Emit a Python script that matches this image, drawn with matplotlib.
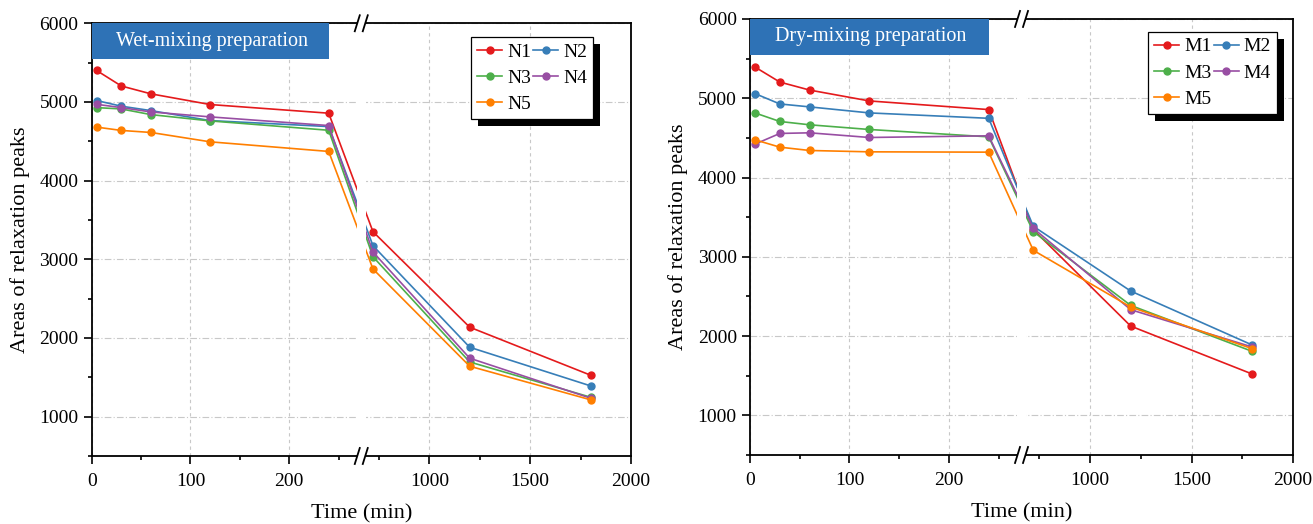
import numpy as np
import matplotlib
matplotlib.use("Agg")
import matplotlib.pyplot as plt
import matplotlib.transforms as mtransforms
from matplotlib.patches import Rectangle
from matplotlib.ticker import FixedLocator, MultipleLocator

plt.rcParams["font.family"] = ["Liberation Serif", "DejaVu Serif"]
plt.rcParams["mathtext.default"] = "regular"

# sampling times (min)
time = [5, 30, 60, 120, 240, 720, 1200, 1800]

# wet-mixing preparation
wet_labels = ["N1", "N2", "N3", "N4", "N5"]
n1 = [5400, 5203, 5103, 4967, 4857, 3351, 2137, 1527]
n2 = [5018, 4946, 4890, 4763, 4687, 3173, 1882, 1391]
n3 = [4928, 4911, 4839, 4759, 4640, 3033, 1695, 1247]
n4 = [4970, 4928, 4873, 4810, 4700, 3093, 1743, 1235]
n5 = [4680, 4638, 4612, 4493, 4371, 2877, 1641, 1214]

# dry-mixing preparation
dry_labels = ["M1", "M2", "M3", "M4", "M5"]
m1 = [5394, 5204, 5103, 4966, 4857, 3343, 2126, 1520]
m2 = [5059, 4928, 4891, 4815, 4747, 3385, 2568, 1886]
m3 = [4815, 4707, 4665, 4606, 4513, 3318, 2387, 1806]
m4 = [4421, 4556, 4564, 4505, 4526, 3360, 2333, 1861]
m5 = [4476, 4383, 4341, 4324, 4320, 3082, 2366, 1840]

colors = ["#e41a1c", "#377eb8", "#4daf4a", "#984ea3", "#ff7f00"]

x_major = [0, 100, 200, 1000, 1500, 2000]
x_minor = [50, 150, 250, 750, 1250, 1750]

# broken x axis: 0-273 on the left half, 662-2000 on the right half
B1, B2, XMAX = 273.0, 662.0, 2000.0
EPS = 1e-9


def fwd(x):
    x = np.asarray(x, dtype=float)
    gap = (B2 - B1) * EPS
    return np.where(
        x <= B1,
        x * 0.5 / B1,
        np.where(x >= B2, 0.5 + gap + (x - B2) * 0.5 / (XMAX - B2),
                 0.5 + (x - B1) * EPS),
    )


def inv(u):
    u = np.asarray(u, dtype=float)
    gap = (B2 - B1) * EPS
    return np.where(
        u <= 0.5,
        u * B1 / 0.5,
        np.where(u >= 0.5 + gap, B2 + (u - 0.5 - gap) * (XMAX - B2) / 0.5,
                 B1 + (u - 0.5) / EPS),
    )


def draw_panel(ax, series, labels, title, leg_anchor):
    for ys, lab, c in zip(series, labels, colors):
        ax.plot(time, ys, color=c, lw=1.2, marker="o", ms=5,
                mec=c, mfc=c, label=lab, zorder=2)

    ax.set_xscale("function", functions=(fwd, inv))
    ax.set_xlim(0, 2000)
    ax.set_ylim(500, 6000)
    ax.xaxis.set_major_locator(FixedLocator(x_major))
    ax.xaxis.set_minor_locator(FixedLocator(x_minor))
    ax.yaxis.set_major_locator(MultipleLocator(1000))
    ax.yaxis.set_minor_locator(MultipleLocator(500))
    ax.xaxis.set_major_formatter(matplotlib.ticker.FuncFormatter(lambda v, p: f"{v:.0f}"))
    ax.xaxis.set_minor_formatter(matplotlib.ticker.NullFormatter())

    ax.tick_params(axis="both", which="major", direction="out", length=5.5,
                   width=1.2, labelsize=14, pad=4)
    ax.tick_params(axis="x", which="major", pad=7)
    ax.tick_params(axis="both", which="minor", direction="out", length=2.8,
                   width=1.2)
    ax.tick_params(top=False, right=False, which="both")
    for sp in ax.spines.values():
        sp.set_linewidth(1.3)

    ax.xaxis.grid(True, color="#c8c8c8", lw=0.8, linestyle=(0, (3, 3)))
    ax.yaxis.grid(True, color="#c8c8c8", lw=0.8, linestyle=(0, (6, 2, 1, 2)))
    ax.set_axisbelow(True)

    ax.set_xlabel("Time (min)", fontsize=16, labelpad=10)
    ax.set_ylabel("Areas of relaxation peaks", fontsize=16, labelpad=7)

    # title box
    ax.add_patch(Rectangle((0, 0.918), 0.441, 0.082, transform=ax.transAxes,
                           facecolor="#2e72b6", edgecolor="none", zorder=4))
    ax.text(0.223, 0.959, title, transform=ax.transAxes, color="white",
            fontsize=14.5, ha="center", va="center", zorder=5)

    # axis break: white gap and // marks
    blend = mtransforms.blended_transform_factory(ax.transAxes, ax.transAxes)
    pw = ax.bbox.width
    ph = ax.bbox.height
    half = 4.5 / pw
    ax.add_patch(Rectangle((0.5 - half, -0.01), 2 * half, 1.02, transform=blend,
                           facecolor="white", edgecolor="none", clip_on=False,
                           zorder=3))
    dx = 2.5 / pw
    dy = 8.0 / ph
    for yb in (0.0, 1.0):
        for xc in (0.5 - 4.0 / pw, 0.5 + 4.0 / pw):
            ax.plot([xc - dx, xc + dx], [yb - dy, yb + dy], color="black",
                    lw=1.3, transform=blend, clip_on=False, zorder=6)

    # legend filled row-wise
    h, l = ax.get_legend_handles_labels()
    order = [0, 2, 4, 1, 3]
    leg = ax.legend([h[i] for i in order], [l[i] for i in order], ncol=2,
                    loc="upper right", bbox_to_anchor=leg_anchor,
                    borderaxespad=0, fontsize=14, frameon=True, fancybox=False,
                    edgecolor="black", framealpha=1, handlelength=1.3,
                    handletextpad=0.25, columnspacing=0.1, labelspacing=0.45,
                    borderpad=0.3)
    leg.get_frame().set_linewidth(0.9)
    leg.set_zorder(7)
    return leg


fig = plt.figure(figsize=(13.13, 5.24), dpi=100)
ax1 = fig.add_axes([0.0698, 0.1298, 0.4107, 0.8258])
ax2 = fig.add_axes([0.5712, 0.1317, 0.4136, 0.8321])

leg1 = draw_panel(ax1, [n1, n2, n3, n4, n5], wet_labels,
                  "Wet-mixing preparation", (0.93, 0.968))
leg2 = draw_panel(ax2, [m1, m2, m3, m4, m5], dry_labels,
                  "Dry-mixing preparation", (0.9705, 0.970))

# legend drop shadows
fig.canvas.draw()
for ax, leg in ((ax1, leg1), (ax2, leg2)):
    bb = leg.get_window_extent()
    ax.add_patch(Rectangle((bb.x0 + 7, bb.y0 - 7), bb.width, bb.height,
                           transform=mtransforms.IdentityTransform(),
                           facecolor="black", edgecolor="none", clip_on=False,
                           zorder=6.9))

fig.savefig("out.png", dpi=100)
